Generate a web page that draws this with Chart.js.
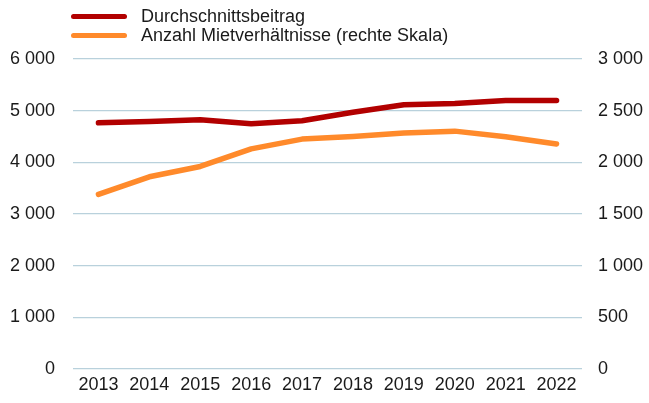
<!DOCTYPE html>
<html>
<head>
<meta charset="utf-8">
<script src="https://cdn.jsdelivr.net/npm/chart.js@4/dist/chart.umd.min.js"></script>
<style>
  html, body { margin: 0; padding: 0; background: #fff; }
  #wrap { position: relative; width: 649px; height: 403px; }
  #legend { position: absolute; left: 71px; top: 7px; font-family: "Liberation Sans", Arial, sans-serif; font-size: 18px; color: #1a1a1a; }
  .item { display: flex; align-items: center; height: 19px; }
  .swatch { width: 56px; height: 5px; border-radius: 3px; margin-right: 14px; }
</style>
</head>
<body>
<div id="wrap">
  <canvas id="myChart" width="649" height="403"></canvas>
  <div id="legend"></div>
</div>
<script>
// Daten
const years = ['2013', '2014', '2015', '2016', '2017', '2018', '2019', '2020', '2021', '2022'];
const beitrag = [4765, 4790, 4825, 4745, 4805, 4970, 5115, 5140, 5195, 5195];
const mietverhaeltnisse = [1690, 1860, 1960, 2130, 2225, 2250, 2285, 2302, 2248, 2178];
const seriesNames = ['Durchschnittsbeitrag', 'Anzahl Mietverhältnisse (rechte Skala)'];
const seriesColors = ['#b20000', '#ff8a2b'];

// Zahlen mit Leerzeichen als Tausendertrennzeichen
function fmt(v) {
    return String(v).replace(/\B(?=(\d{3})+(?!\d))/g, ' ');
}

// feste Achsengrößen, keine Extra-Ränder durch überstehende Beschriftungen
function fixSize(key, val) {
    return s => {
        s.paddingLeft = 0; s.paddingRight = 0; s.paddingTop = 0; s.paddingBottom = 0;
        s[key] = val;
    };
}

const tickFont = { family: 'Liberation Sans, Arial, sans-serif', size: 18 };

const chart = new Chart(document.getElementById('myChart').getContext('2d'), {
    type: 'line',
    data: {
        labels: years,
        datasets: [
            { label: seriesNames[0], data: beitrag, yAxisID: 'y', borderColor: seriesColors[0] },
            { label: seriesNames[1], data: mietverhaeltnisse, yAxisID: 'y2', borderColor: seriesColors[1] }
        ].map(ds => Object.assign(ds, {
            borderWidth: 5.5,
            pointRadius: 0,
            tension: 0,
            fill: false,
            borderCapStyle: 'round',
            borderJoinStyle: 'round'
        }))
    },
    options: {
        responsive: false,
        animation: false,
        layout: { padding: { top: 59, left: 9, right: 5, bottom: 7 } },
        plugins: { legend: { display: false }, tooltip: { enabled: false } },
        scales: {
            x: {
                offset: true,
                grid: { display: false, drawTicks: false },
                border: { display: false },
                ticks: { color: '#1a1a1a', font: tickFont, padding: 5, maxRotation: 0 },
                afterFit: fixSize('height', 27)
            },
            y: {
                position: 'left',
                min: 0, max: 6000,
                grid: { color: '#b9d1dc', lineWidth: 1.2, drawTicks: false },
                border: { display: false },
                ticks: { stepSize: 1000, color: '#1a1a1a', font: tickFont, padding: 18, callback: v => fmt(v) },
                afterFit: fixSize('width', 64)
            },
            y2: {
                position: 'right',
                min: 0, max: 3000,
                grid: { display: false, drawTicks: false },
                border: { display: false },
                ticks: { stepSize: 500, color: '#1a1a1a', font: tickFont, padding: 16, callback: v => fmt(v) },
                afterFit: fixSize('width', 62)
            }
        }
    }
});

// Legende als HTML, untereinander
const legend = document.getElementById('legend');
chart.data.datasets.forEach(ds => {
    legend.innerHTML += `<div class="item"><span class="swatch" style="background:${ds.borderColor}"></span>${ds.label}</div>`;
});
</script>
</body>
</html>
